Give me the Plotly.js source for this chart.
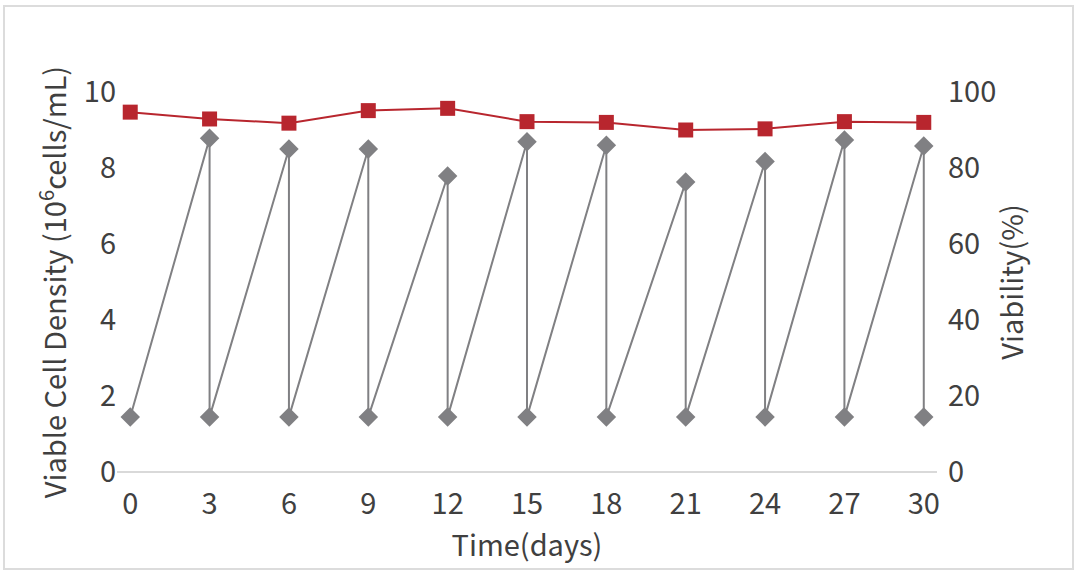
<!DOCTYPE html>
<html>
<head>
<meta charset="utf-8">
<script src="https://cdn.plot.ly/plotly-3.0.1.min.js"></script>
<style>
  html, body { margin: 0; padding: 0; background: #fff; }
  #wrap { position: relative; width: 1080px; height: 577px; }
  #chart { width: 1080px; height: 577px; }
  #frame { position: absolute; left: 3px; top: 5px; width: 1067px; height: 561px;
           border: 2px solid #dcdcdc; pointer-events: none; }
</style>
</head>
<body>
<div id="wrap">
  <div id="chart"></div>
  <div id="frame"></div>
</div>
<script>
// Time points (days)
const days = [0, 3, 6, 9, 12, 15, 18, 21, 24, 27, 30];
// Viability (%) - right axis
const viability = [94.7, 92.9, 91.8, 95.1, 95.7, 92.2, 92.0, 90.0, 90.3, 92.2, 92.0];
// Viable cell density (10^6 cells/mL) - sawtooth (peak before passage, reseed after)
const vcdDays = [0, 3, 3, 6, 6, 9, 9, 12, 12, 15, 15, 18, 18, 21, 21, 24, 24, 27, 27, 30, 30];
const vcd = [1.45, 8.78, 1.45, 8.5, 1.45, 8.5, 1.45, 7.79, 1.45, 8.69, 1.45, 8.6, 1.45, 7.63, 1.45, 8.17, 1.45, 8.74, 1.45, 8.58, 1.45];
const xTicks = [0, 3, 6, 9, 12, 15, 18, 21, 24, 27, 30];
const yLeftTicks = [0, 2, 4, 6, 8, 10];
const yRightTicks = [0, 20, 40, 60, 80, 100];

const FONT = '"Noto Sans CJK SC", "Noto Sans", sans-serif';
const TXT = '#404040';
const FS = 29;

const traces = [
  {
    x: vcdDays, y: vcd, type: 'scatter', mode: 'lines+markers',
    name: 'Viable Cell Density',
    line: { color: '#808083', width: 2 },
    marker: { symbol: 'diamond', size: 15, color: '#808083' },
    yaxis: 'y', hoverinfo: 'x+y'
  },
  {
    x: days, y: viability, type: 'scatter', mode: 'lines+markers',
    name: 'Viability',
    line: { color: '#B8262E', width: 2 },
    marker: { symbol: 'square', size: 15, color: '#B8262E' },
    yaxis: 'y2', hoverinfo: 'x+y'
  }
];

const layout = {
  width: 1080, height: 577,
  margin: { l: 117, r: 143, t: 92, b: 105 },
  paper_bgcolor: '#ffffff', plot_bgcolor: '#ffffff',
  showlegend: false,
  font: { family: FONT, size: FS, color: TXT },
  xaxis: {
    range: [-0.5, 30.5], tickvals: xTicks, ticktext: xTicks.map(String),
    showgrid: false, zeroline: false,
    showline: false, ticks: '', ticklabelstandoff: 12,
    tickfont: { family: FONT, size: FS, color: TXT },
    title: { text: 'Time(days)', font: { family: FONT, size: FS, color: TXT }, standoff: 10 }
  },
  yaxis: {
    range: [0, 10], tickvals: yLeftTicks, ticktext: yLeftTicks.map(String),
    showgrid: false, zeroline: true, zerolinecolor: '#d9d9d9', zerolinewidth: 1.5,
    showline: false, ticks: '', ticklabelstandoff: 0,
    tickfont: { family: FONT, size: FS, color: TXT },
    title: { text: 'Viable Cell Density (10<sup>6</sup>cells/mL)', font: { family: FONT, size: FS, color: TXT }, standoff: 8 }
  },
  yaxis2: {
    range: [0, 100], tickvals: yRightTicks, ticktext: yRightTicks.map(String),
    overlaying: 'y', side: 'right',
    showgrid: false, zeroline: false, showline: false, ticks: '', ticklabelstandoff: 10,
    tickfont: { family: FONT, size: FS, color: TXT },
    title: { text: 'Viability(%)', font: { family: FONT, size: FS, color: TXT }, standoff: 7 }
  }
};

Plotly.newPlot('chart', traces, layout, { displayModeBar: false, staticPlot: true });
</script>
</body>
</html>
